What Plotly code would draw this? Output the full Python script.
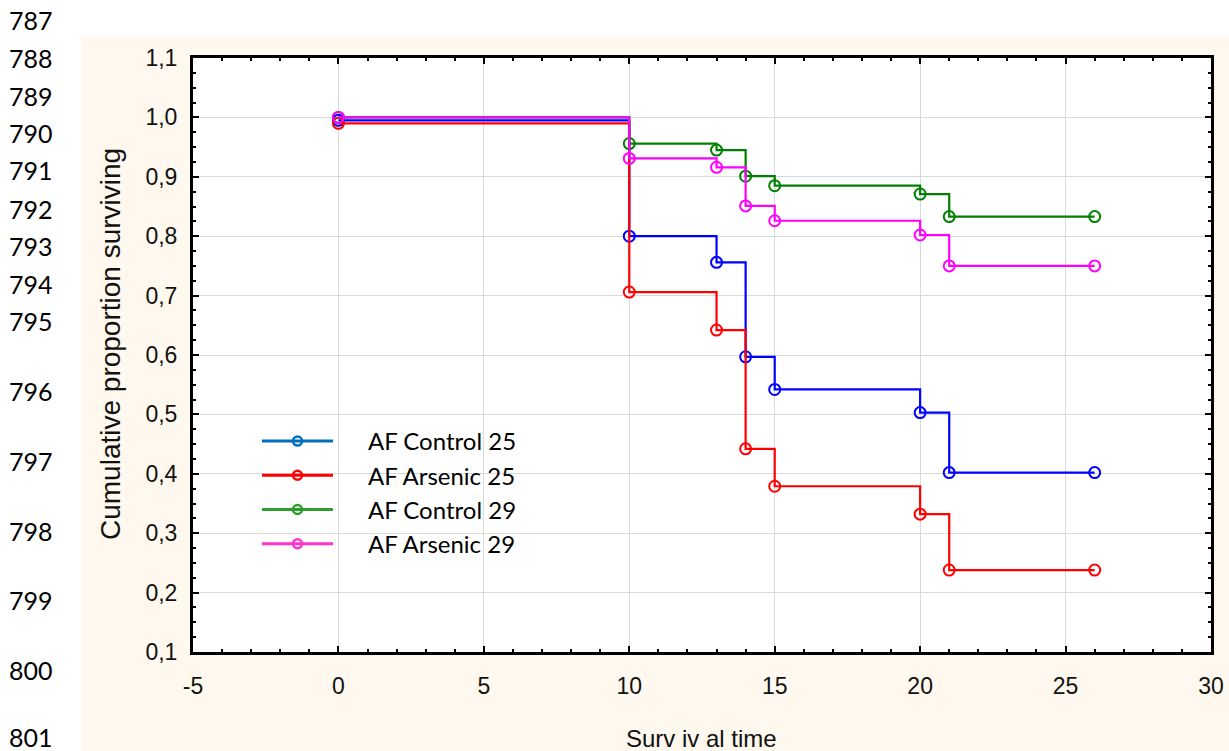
import plotly.graph_objects as go

# ---- data ----
times = [0, 10, 13, 14, 15, 20, 21, 26]
control_25 = [0.995, 0.800, 0.756, 0.597, 0.542, 0.503, 0.402, 0.402]
arsenic_25 = [0.990, 0.706, 0.642, 0.442, 0.379, 0.332, 0.238, 0.238]
control_29 = [1.000, 0.956, 0.945, 0.901, 0.885, 0.871, 0.833, 0.833]
arsenic_29 = [1.000, 0.931, 0.916, 0.851, 0.826, 0.802, 0.750, 0.750]

series_names = ["AF Control 25", "AF Arsenic 25", "AF Control 29", "AF Arsenic 29"]
series_values = [control_25, arsenic_25, control_29, arsenic_29]
line_colors = ["#0000FF", "#FF0000", "#008000", "#FF00FF"]
legend_colors = ["#0070C0", "#FF0000", "#2E9E2E", "#FF33CC"]

x_ticks = [-5, 0, 5, 10, 15, 20, 25, 30]
x_tick_text = ["-5", "0", "5", "10", "15", "20", "25", "30"]
y_ticks = [0.1, 0.2, 0.3, 0.4, 0.5, 0.6, 0.7, 0.8, 0.9, 1.0, 1.1]
y_tick_text = ["0,1", "0,2", "0,3", "0,4", "0,5", "0,6", "0,7", "0,8", "0,9", "1,0", "1,1"]

x_title = "Surv iv al time"
y_title = "Cumulative proportion surviving"

line_numbers = ["787", "788", "789", "790", "791", "792", "793", "794",
                "795", "796", "797", "798", "799", "800", "801"]
line_number_y_px = [20, 58, 96, 133, 170, 209, 246, 284, 321, 391, 461, 531, 600, 670, 737]

# ---- layout geometry (pixels) ----
W, H = 1229, 751
L, R, T, B = 193, 1229 - 1211, 58, 751 - 652
PW, PH = W - L - R, H - T - B


def px_x(p):
    return (p - L) / PW


def px_y(p):
    return (H - B - p) / PH


fig = go.Figure()

for name, vals, col in zip(series_names, series_values, line_colors):
    fig.add_trace(go.Scatter(
        x=times, y=vals, mode="lines+markers", line_shape="hv",
        line=dict(color=col, width=2.2),
        marker=dict(symbol="circle-open", size=11, color=col, line=dict(width=2)),
        showlegend=False, name=name,
    ))

PAD = "\u00a0" * 5
for i, (name, col) in enumerate(zip(series_names, legend_colors)):
    fig.add_trace(go.Scatter(
        x=[None], y=[None], mode="lines+markers", name=PAD + name,
        line=dict(color=col, width=3),
        marker=dict(symbol="circle-open", size=9, color=col, line=dict(width=2.5)),
        legendgroup=f"g{i}",
    ))

axis_font = dict(family="Liberation Sans, Arial", size=23, color="#111111")

fig.update_xaxes(
    range=[-5, 30], tickvals=x_ticks, ticktext=x_tick_text,
    showgrid=True, gridcolor="#D9D9D9", gridwidth=1, zeroline=False,
    showline=True, linecolor="black", linewidth=3, mirror="ticks",
    ticks="inside", ticklen=6, tickwidth=2, tickcolor="black",
    minor=dict(dtick=1, ticks="inside", ticklen=3, tickwidth=2, tickcolor="black", showgrid=False),
    tickfont=axis_font, ticklabelstandoff=11,
    automargin=False,
)
fig.update_yaxes(
    range=[0.1, 1.1], tickvals=y_ticks, ticktext=y_tick_text,
    showgrid=True, gridcolor="#D9D9D9", gridwidth=1, zeroline=False,
    showline=True, linecolor="black", linewidth=3, mirror="ticks",
    ticks="inside", ticklen=6, tickwidth=2, tickcolor="black",
    minor=dict(dtick=0.025, ticks="inside", ticklen=3, tickwidth=2, tickcolor="black", showgrid=False),
    tickfont=axis_font, ticklabelstandoff=8,
    automargin=False,
)

shapes = [
    dict(type="rect", xref="paper", yref="paper", x0=px_x(0), x1=px_x(81), y0=px_y(H), y1=px_y(0),
         fillcolor="white", line=dict(width=0), layer="below"),
    dict(type="rect", xref="paper", yref="paper", x0=px_x(0), x1=px_x(W), y0=px_y(37), y1=px_y(0),
         fillcolor="white", line=dict(width=0), layer="below"),
]

annotations = []
for txt, yp in zip(line_numbers, line_number_y_px):
    annotations.append(dict(
        text=txt, xref="paper", yref="paper", x=px_x(7), y=px_y(yp),
        xanchor="left", yanchor="middle", showarrow=False,
        font=dict(family="Lato, Carlito, Calibri", size=25, color="black"),
    ))

title_font = dict(family="Liberation Sans, Arial", color="#111111")
annotations.append(dict(
    text=x_title, xref="paper", yref="paper", x=px_x(701), y=px_y(738),
    xanchor="center", yanchor="middle", showarrow=False,
    font=dict(size=24, **title_font),
))
annotations.append(dict(
    text=y_title, xref="paper", yref="paper", x=px_x(110), y=px_y(344),
    xanchor="center", yanchor="middle", showarrow=False, textangle=-90,
    font=dict(size=28, **title_font),
))

fig.update_layout(
    width=W, height=H, margin=dict(l=L, r=R, t=T, b=B, autoexpand=False),
    paper_bgcolor="#FEF8EE", plot_bgcolor="white",
    shapes=shapes, annotations=annotations,
    showlegend=True,
    legend=dict(
        x=px_x(257), y=px_y(419), xanchor="left", yanchor="top",
        bgcolor="rgba(0,0,0,0)", borderwidth=0,
        font=dict(family="Lato, Carlito, Calibri", size=24, color="black"),
        itemwidth=71, tracegroupgap=0,
    ),
)

fig.write_html("out.html")
